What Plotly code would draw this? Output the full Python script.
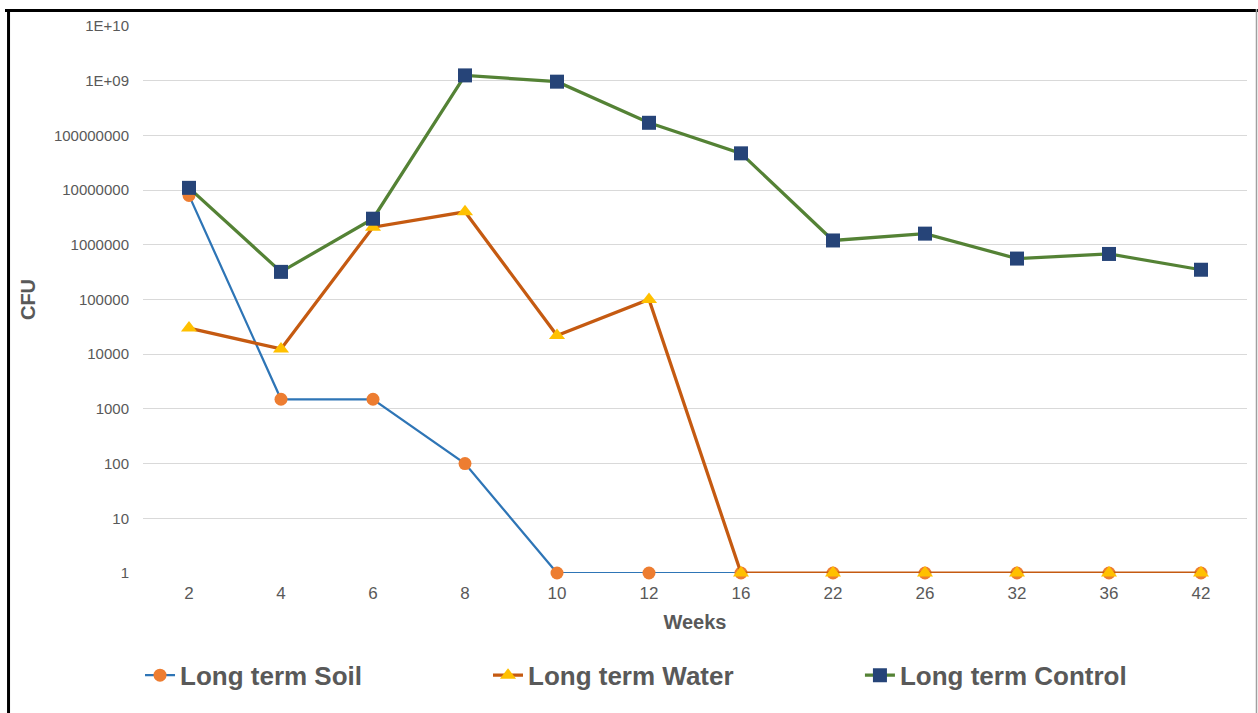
import plotly.graph_objects as go

# Sampling weeks (categorical axis)
weeks = ["2", "4", "6", "8", "10", "12", "16", "22", "26", "32", "36", "42"]

# Colony-forming units per treatment
soil_cfu = [8.0e6, 1500, 1500, 100, 1, 1, 1, 1, 1, 1, 1, 1]
water_cfu = [30000, 12500, 2.1e6, 4.0e6, 22000, 1.0e5, 1, 1, 1, 1, 1, 1]
control_cfu = [1.1e7, 3.2e5, 3.0e6, 1.25e9, 9.6e8, 1.7e8, 4.7e7,
               1.2e6, 1.6e6, 5.6e5, 6.8e5, 3.5e5]

# Log-scale tick positions and their labels
y_tickvals = [1, 10, 100, 1000, 1e4, 1e5, 1e6, 1e7, 1e8, 1e9, 1e10]
y_ticktext = ["1", "10", "100", "1000", "10000", "100000", "1000000",
              "10000000", "100000000", "1E+09", "1E+10"]

FONT = "Liberation Sans, Arial, sans-serif"
GREY_TXT = "#595959"

fig = go.Figure()

fig.add_trace(go.Scatter(
    x=weeks, y=soil_cfu, name="Long term Soil", mode="lines+markers",
    line=dict(color="#2E75B6", width=2.25),
    marker=dict(symbol="circle", size=13, color="#ED7D31"),
    legend="legend", cliponaxis=False,
))
fig.add_trace(go.Scatter(
    x=weeks, y=water_cfu, name="Long term Water", mode="lines+markers",
    line=dict(color="#C55A11", width=3.25),
    marker=dict(symbol="triangle-up", size=14, color="#FFC000"),
    legend="legend2", cliponaxis=False,
))
fig.add_trace(go.Scatter(
    x=weeks, y=control_cfu, name="Long term Control", mode="lines+markers",
    line=dict(color="#548235", width=3.25),
    marker=dict(symbol="square", size=14, color="#264478"),
    legend="legend3", cliponaxis=False,
))

legend_common = dict(
    orientation="h", yanchor="middle", y=-0.187, xanchor="left",
    font=dict(family=FONT, size=26, color=GREY_TXT, weight="bold"),
    bgcolor="rgba(0,0,0,0)",
)

fig.update_layout(
    width=1258, height=713,
    margin=dict(l=143, r=11, t=26, b=140),
    paper_bgcolor="white", plot_bgcolor="white",
    font=dict(family=FONT, color=GREY_TXT),
    showlegend=True,
    legend=dict(x=-0.0027, **legend_common),
    legend2=dict(x=0.3125, **legend_common),
    legend3=dict(x=0.6494, **legend_common),
    xaxis=dict(
        type="category", range=[-0.5, 11.5],
        showgrid=False, zeroline=False, showline=False,
        ticks="", tickfont=dict(family=FONT, size=17, color=GREY_TXT),
        ticklabelstandoff=8,
        title=dict(text="Weeks", standoff=12,
                   font=dict(family=FONT, size=20, color=GREY_TXT, weight="bold")),
        automargin=False,
    ),
    yaxis=dict(
        type="log", range=[0, 10], tickvals=y_tickvals, ticktext=y_ticktext,
        showgrid=True, gridcolor="#D9D9D9", gridwidth=1.3,
        zeroline=False, showline=False, ticks="",
        tickfont=dict(family=FONT, size=15, color=GREY_TXT),
        ticklabelstandoff=13,
        title=dict(text="CFU", standoff=12,
                   font=dict(family=FONT, size=20, color=GREY_TXT, weight="bold")),
        automargin=False,
    ),
    shapes=[
        # outer frame: heavy top and left edges, thin grey right edge
        dict(type="line", xref="paper", yref="paper",
             x0=-0.125, x1=1.0109, y0=1.0283, y1=1.0283,
             line=dict(color="black", width=3)),
        dict(type="line", xref="paper", yref="paper",
             x0=-0.1218, x1=-0.1218, y0=1.031, y1=-0.3,
             line=dict(color="black", width=3)),
        dict(type="line", xref="paper", yref="paper",
             x0=1.0086, x1=1.0086, y0=1.031, y1=-0.3,
             line=dict(color="#A0A0A0", width=1.5)),
    ],
)

fig.write_html("out.html")
